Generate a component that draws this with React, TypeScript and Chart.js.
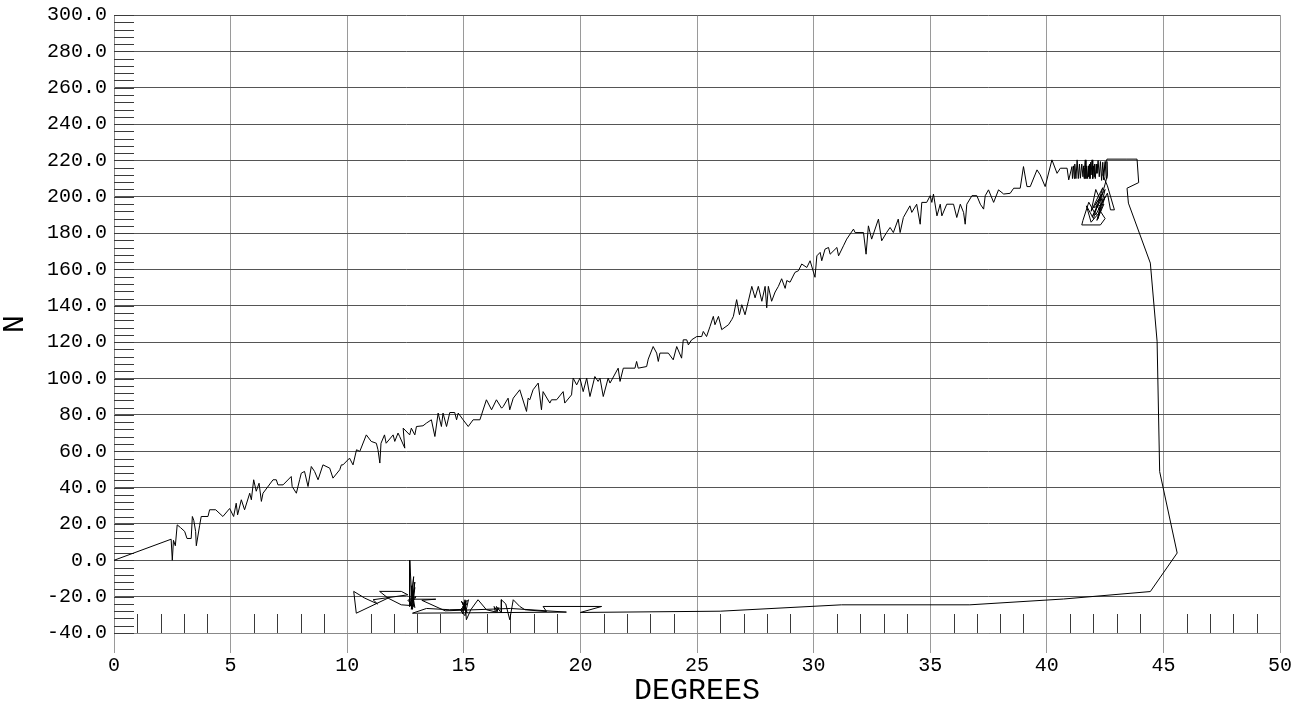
import React, { useEffect, useRef } from "react";
import { Chart, registerables } from "chart.js";

Chart.register(...registerables);

// Axis settings (values)
const X_MIN = 0;
const X_MAX = 50;
const X_STEP = 5;
const X_MINOR = 1;
const Y_MIN = -40;
const Y_MAX = 300;
const Y_STEP = 20;
const Y_MINOR = 4;
const X_TITLE = "DEGREES";
const Y_TITLE = "N";

// Path, in order, as [degrees, N]
const ascentLow: number[][] = [
  [0, 0], [2.45, 11.6], [2.5, 0], [2.55, 11], [2.63, 8], [2.71, 19.5], [2.85, 18], [3.03, 15.9],
  [3.13, 12], [3.31, 12], [3.36, 24.1], [3.42, 22], [3.5, 15.9], [3.53, 8], [3.67, 19], [3.74, 24.1],
  [4.03, 24.1], [4.1, 27.8], [4.36, 27.8], [4.67, 24.1], [4.96, 28.5], [5.13, 24.1], [5.24, 31.4],
  [5.3, 25], [5.46, 33.3], [5.6, 27.8], [5.82, 36.9], [5.89, 33.3], [5.99, 44.3], [6.1, 38],
  [6.22, 42.4], [6.32, 32.4], [6.39, 36.9], [6.82, 44.3], [6.96, 44.3], [7.03, 41.5], [7.25, 41.5],
  [7.6, 46.1], [7.64, 40.6], [7.82, 36.9], [7.96, 44.3], [8.03, 47.9], [8.17, 48.9], [8.32, 40.6],
  [8.46, 51.6], [8.6, 48.9], [8.75, 44.3], [8.96, 52.5], [9.25, 50.7], [9.39, 45.2], [9.68, 49.8],
  [9.75, 52.5], [9.82, 52.5], [10.1, 56.2], [10.25, 52.5], [10.4, 60.8], [10.54, 59.9], [10.82, 69],
  [11.03, 65.4], [11.25, 64.4], [11.32, 60.8], [11.4, 53.5], [11.45, 64.4], [11.6, 69], [11.67, 64.4],
  [11.97, 69], [12.04, 65.4], [12.18, 70],
];

const ascentMid: number[][] = [
  [12.25, 68.1], [12.47, 61.7], [12.4, 72.7], [12.68, 69], [12.75, 72.7], [12.9, 69], [12.97, 73.6],
  [13.25, 74], [13.4, 75.5], [13.61, 77.3], [13.76, 68.1], [13.9, 81], [14.04, 73.6], [14.11, 81],
  [14.26, 73.6], [14.4, 81.3], [14.61, 81.3], [14.69, 77.3], [14.76, 81], [14.97, 77.3], [15.19, 73.6],
  [15.4, 77.3], [15.69, 77.3], [15.97, 88.3], [16.19, 82.8], [16.4, 88.3], [16.62, 83.7], [16.69, 84.6],
  [16.9, 89.2], [16.97, 82.8], [17.12, 89.2], [17.4, 93.8], [17.69, 81.9], [17.76, 89.2], [17.83, 88.3],
  [17.97, 93.8], [18.19, 97.5], [18.33, 82.8], [18.4, 92.8], [18.69, 86.5], [18.76, 88.3], [18.98, 88.3],
  [19.26, 92.8], [19.33, 86.5], [19.62, 91], [19.69, 100.2], [19.84, 96.5], [19.98, 100.2], [20.12, 92.8],
  [20.27, 100.2], [20.41, 90.1], [20.62, 101.1], [20.76, 98.4], [20.84, 100.2], [20.98, 90.1],
  [21.19, 100.2], [21.27, 97.5], [21.62, 105.7], [21.7, 98.4], [21.84, 105.7], [22.34, 105.7],
  [22.41, 109.4], [22.48, 105.7], [22.84, 106.6], [22.91, 110.7], [23.12, 117.6], [23.27, 114],
  [23.34, 109.4], [23.41, 114], [23.77, 114], [23.98, 110.3], [24.13, 117.6], [24.34, 111.2],
  [24.41, 121.3], [24.56, 121.3], [24.63, 118.5], [24.77, 121.3],
];

const ascentHigh: number[][] = [
  [24.99, 123.1], [25.2, 123.1], [25.27, 125.9], [25.41, 123.1], [25.56, 128.7], [25.7, 134.2],
  [25.77, 129.6], [25.92, 134.2], [26.06, 126.9], [26.35, 129.6], [26.49, 132.4], [26.56, 134.2],
  [26.7, 143.4], [26.82, 135.1], [26.92, 140.6], [27.06, 135.1], [27.2, 142.5], [27.35, 150.7],
  [27.49, 144.4], [27.63, 150.7], [27.78, 142.5], [27.92, 150.7], [27.99, 138.9], [28.06, 150.7],
  [28.2, 142.5], [28.35, 147.6], [28.49, 150.7], [28.63, 154.9], [28.78, 149.6], [28.85, 153.9],
  [28.99, 153], [29.2, 158.4], [29.35, 159.3], [29.49, 163], [29.71, 161.1], [29.85, 164.8],
  [30.06, 155.7], [30.14, 167.5], [30.28, 169.4], [30.35, 164.8], [30.49, 171.2], [30.64, 172.1],
  [30.71, 168.4], [31.0, 172.1], [31.07, 167.5], [31.28, 173], [31.42, 176.7], [31.71, 182.2],
  [31.78, 180.3], [32.14, 180.3], [32.25, 168.4], [32.35, 184], [32.49, 176.7], [32.78, 187.7],
  [32.92, 175.8], [33.13, 180.3], [33.28, 183.1], [33.42, 180.3], [33.63, 187.7], [33.71, 180.3],
  [33.85, 188.6], [34.13, 195], [34.21, 191.4], [34.42, 195.9], [34.57, 184.9], [34.64, 196.9],
  [34.85, 196.9], [35.0, 200.6], [35.07, 196.9], [35.14, 201.5], [35.29, 189.5], [35.43, 195.9],
  [35.5, 189.5], [35.71, 195.9], [36.0, 195.9], [36.14, 188.6], [36.29, 195.9], [36.43, 191.4],
  [36.5, 184.9], [36.57, 195.9], [36.79, 200.6], [37.0, 200.6], [37.15, 195.9], [37.29, 193.2],
  [37.36, 200.6], [37.5, 203.8], [37.72, 196.9], [37.93, 203.8], [38.15, 201.5], [38.43, 201.9],
];

const peakCluster: number[][] = [
  [38.58, 204.7], [38.86, 204.7], [39.0, 216.6], [39.15, 205.6], [39.29, 205.6], [39.58, 214.8],
  [39.72, 212], [39.93, 205.6], [40.22, 220.3], [40.44, 212.9], [40.58, 215.7], [40.87, 215.7],
  [40.94, 209.3], [41.08, 216.6], [41.1, 210], [41.15, 217], [41.18, 210], [41.2, 218], [41.25, 210],
  [41.3, 220.3], [41.35, 210], [41.4, 218], [41.44, 210.2], [41.5, 218], [41.55, 211], [41.58, 217],
  [41.6, 210], [41.62, 216], [41.65, 220.3], [41.68, 210], [41.7, 217], [41.75, 210], [41.78, 217],
  [41.8, 211.1], [41.83, 218], [41.85, 210], [41.88, 219], [41.9, 212], [41.94, 220.3], [41.97, 210],
  [42.0, 217], [42.03, 211], [42.05, 218], [42.08, 210], [42.12, 218], [42.15, 212.9], [42.2, 220],
  [42.25, 211], [42.3, 219.4], [42.35, 209], [42.4, 219], [42.44, 209.3], [42.5, 219.4], [42.55, 210],
  [42.58, 219.4], [42.6, 212],
  [42.5, 207], [42.3, 198], [42.1, 204], [41.9, 192], [42.2, 200], [42.4, 205], [42.0, 188], [41.7, 195],
  [41.9, 186], [42.3, 192], [42.5, 200], [42.1, 190], [41.8, 197], [41.55, 187], [41.5, 184.5],
  [42.3, 184.5], [42.5, 188], [42.1, 196], [42.4, 202], [41.95, 189], [42.35, 199], [42.2, 188],
  [42.5, 204], [42.0, 194], [42.45, 196], [42.15, 187], [42.3, 195], [42.6, 202], [42.73, 192.8],
  [42.9, 192.8], [42.6, 206], [42.4, 212], [42.5, 218], [42.58, 220.7],
];

const returnPath: number[][] = [
  [43.4, 220.7], [43.87, 220.7], [43.94, 207.8], [43.44, 204.7], [43.5, 196.5], [44.44, 163.5],
  [44.73, 120.4], [44.84, 48.8], [45.59, 4], [44.44, -17.2], [40.72, -21.3], [36.7, -24.5],
  [31.2, -24.5], [26, -28], [20, -28.7], [20.91, -25.4],
];

const bottomCluster: number[][] = [
  [18.4, -25.4], [18.55, -28.2], [17.62, -27.2], [17.4, -25.4], [17.12, -21.7], [16.97, -32.7],
  [16.8, -24], [16.61, -21.7], [16.61, -29], [16.4, -25.4], [16.45, -28.2], [16.3, -25.4],
  [16.35, -28.2], [16.5, -26], [16.4, -28.5], [15.97, -27.2], [15.61, -21.7], [15.3, -27.2],
  [15.11, -32.7], [15.05, -21.7], [14.95, -29.5], [15.1, -22], [14.9, -28.2], [15.15, -23.6],
  [14.85, -27.2], [15.05, -30.5], [15.2, -21.7], [14.95, -25.4], [15.1, -28.2], [14.9, -22.5],
  [15.15, -29], [14.95, -23], [15.05, -27], [14.4, -27.2], [13.4, -26.5], [12.8, -29.1],
  [19.4, -28.5], [17.0, -26.5], [14.2, -27.8], [13.2, -22], [13.8, -21.4], [12.82, -21.4], [12.9, -12],
  [12.75, -27], [12.85, -9], [12.7, -25], [12.9, -15], [12.8, -27], [12.68, 0], [12.68, -25.4],
  [12.95, -20], [12.6, -22], [12.9, -26], [12.75, -14], [12.85, -25], [12.32, -24.5], [11.75, -20.8],
  [11.39, -17.1], [12.32, -17.1], [12.6, -19], [11.11, -21.7], [11.3, -24], [10.75, -20.8],
  [10.28, -17.1], [10.39, -29.1], [11.75, -20.8],
];

const FONT = "'Liberation Mono', 'DejaVu Sans Mono', monospace";

const minorTicks = {
  id: "minorTicks",
  beforeDatasetsDraw(chart: any) {
    const { ctx, chartArea, scales } = chart;
    const xs = scales.x;
    const ys = scales.y;
    ctx.save();
    ctx.strokeStyle = "#3a3a3a";
    ctx.lineWidth = 1;
    ctx.beginPath();
    for (let v = Y_MIN; v <= Y_MAX; v += Y_MINOR) {
      const py = Math.round(ys.getPixelForValue(v)) + 0.5;
      ctx.moveTo(chartArea.left, py);
      ctx.lineTo(chartArea.left + 20, py);
    }
    for (let v = X_MIN + X_MINOR; v < X_MAX; v += X_MINOR) {
      if (v % X_STEP === 0) continue;
      const px = Math.round(xs.getPixelForValue(v)) + 0.5;
      ctx.moveTo(px, chartArea.bottom);
      ctx.lineTo(px, chartArea.bottom - 19);
    }
    ctx.stroke();
    ctx.restore();
  },
};

export default function App() {
  const ref = useRef<HTMLCanvasElement | null>(null);

  useEffect(() => {
    document.body.style.margin = "0";
    const canvas = ref.current;
    if (!canvas) return;
    const points = [
      ...ascentLow, ...ascentMid, ...ascentHigh, ...peakCluster, ...returnPath, ...bottomCluster,
    ].map(([x, y]) => ({ x, y }));

    const chart = new Chart(canvas, {
      type: "scatter",
      data: {
        datasets: [
          {
            data: points,
            showLine: true,
            borderColor: "#000",
            borderWidth: 1,
            pointRadius: 0,
            pointHoverRadius: 0,
            tension: 0,
            fill: false,
          },
        ],
      },
      plugins: [minorTicks],
      options: {
        responsive: false,
        maintainAspectRatio: false,
        animation: false,
        layout: { padding: { top: 15, right: 21, left: 0, bottom: 0 } },
        plugins: { legend: { display: false }, tooltip: { enabled: false } },
        scales: {
          x: {
            type: "linear",
            min: X_MIN,
            max: X_MAX,
            ticks: {
              stepSize: X_STEP,
              autoSkip: false,
              maxRotation: 0,
              padding: 1,
              color: "#000",
              font: { family: FONT, size: 20 },
            },
            grid: { color: "#9a9a9a", lineWidth: 1, tickLength: 20, drawTicks: true },
            border: { color: "#888" },
            title: {
              display: true,
              text: X_TITLE,
              color: "#000",
              font: { family: FONT, size: 30, lineHeight: 1 },
              padding: { top: 0, bottom: 1 },
            },
            afterFit: (s: any) => {
              s.height = 74;
              s.paddingLeft = 0;
              s.paddingRight = 0;
            },
          },
          y: {
            type: "linear",
            min: Y_MIN,
            max: Y_MAX,
            ticks: {
              stepSize: Y_STEP,
              autoSkip: false,
              padding: 7,
              color: "#000",
              font: { family: FONT, size: 20 },
              callback: (v: any) => Number(v).toFixed(1),
            },
            grid: { color: "#555", lineWidth: 1, drawTicks: false },
            border: { color: "#888" },
            title: {
              display: true,
              text: Y_TITLE,
              color: "#000",
              font: { family: FONT, size: 30, lineHeight: 1 },
              padding: { top: 0, bottom: 0 },
            },
            afterFit: (s: any) => {
              s.width = 114;
              s.paddingTop = 0;
              s.paddingBottom = 0;
            },
          },
        },
      },
    });
    return () => chart.destroy();
  }, []);

  return (
    <div style={{ width: 1301, height: 707 }}>
      <canvas ref={ref} width={1301} height={707} style={{ display: "block" }} />
    </div>
  );
}
